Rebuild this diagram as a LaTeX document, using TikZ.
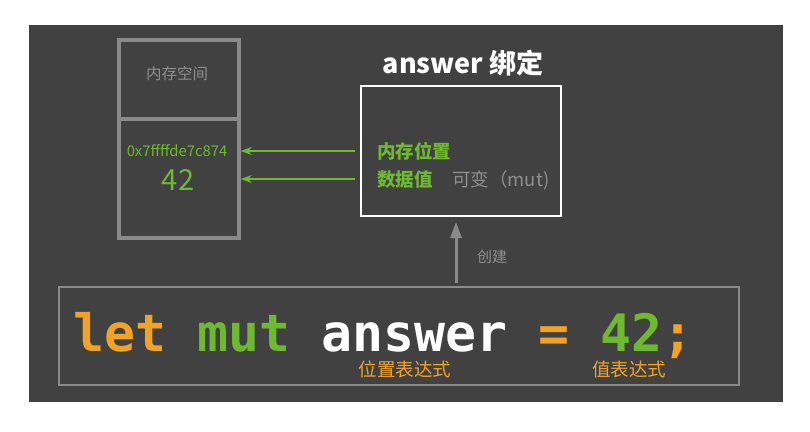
\documentclass[tikz,border=0pt]{standalone}
\usepackage{fontspec}
\newfontfamily\cjk{Noto Sans CJK SC}
\newfontfamily\codefont{DejaVu Sans Mono}
\usetikzlibrary{arrows.meta}
\definecolor{panelbg}{HTML}{414141}
\definecolor{boxgray}{HTML}{8A8A8A}
\definecolor{txtgray}{HTML}{8E8E8E}
\definecolor{cgreen}{HTML}{6DB92F}
\definecolor{corange}{HTML}{F2A325}
\tikzset{
  membox/.style={draw=boxgray, line width=3.5pt, minimum width=120pt, inner sep=0pt},
  lbl/.style={inner sep=0pt, font=\cjk},
  garrow/.style={draw=cgreen, line width=1.8pt, -{Stealth[length=11pt,width=8pt]}},
  uparrow/.style={draw=boxgray, line width=3pt, -{Triangle[length=16pt,width=11pt]}},
}
\begin{document}
\begin{tikzpicture}[x=1pt,y=-1pt]
\useasboundingbox (0,0) rectangle (810,431);
\fill[white] (0,0) rectangle (810,431);
\fill[panelbg] (29,25) rectangle (783,402);

% memory box
\node[membox, minimum height=79pt] (memtop) at (179,79.5) {};
\node[membox, minimum height=119pt] (membot) at (179,178.5) {};
\node[lbl, text=txtgray, font=\cjk\fontsize{15.5}{18}\selectfont] (memlbl) at (177,74) {内存空间};
\node[lbl, text=cgreen, font=\cjk\fontsize{14.8}{17}\selectfont] (addr) at (177,151) {0x7ffffde7c874};
\node[lbl, text=cgreen, font=\cjk\fontsize{29}{32}\selectfont] (val) at (178,180) {42};

% binding box
\node[draw=white, line width=2pt, minimum width=200pt, minimum height=130pt, inner sep=0pt] (bind) at (461,151) {};
\node[lbl, text=white, font=\cjk\bfseries\fontsize{27}{32}\selectfont] (title) at (463,63) {answer 绑定};
\node[lbl, text=cgreen, font=\cjk\bfseries\fontsize{18.5}{22}\selectfont, anchor=west] (loc) at (377,151) {内存位置};
\node[lbl, text=cgreen, font=\cjk\bfseries\fontsize{18.5}{22}\selectfont, anchor=west] (dat) at (377,180) {数据值};
\node[lbl, text=txtgray, font=\cjk\fontsize{18.5}{22}\selectfont, anchor=west] (mutl) at (452,180) {可变（mut)};

% green arrows
\coordinate (a1s) at (355,151);
\coordinate (a2s) at (355,179);
\draw[garrow] (a1s) -- (a1s -| membot.east);
\draw[garrow] (a2s) -- (a2s -| membot.east);

% code box
\node[draw=boxgray, line width=2pt, minimum width=680pt, minimum height=98pt, inner sep=0pt] (code) at (399,336) {};
\node[inner sep=0pt, text depth=0pt, anchor=base west, font=\codefont\bfseries\fontsize{51.5}{56}\selectfont] (src) at (73,351)
  {\textcolor{corange}{let} \textcolor{cgreen}{mut} \textcolor{white}{answer} \textcolor{corange}{=} \textcolor{cgreen}{42}\textcolor{corange}{;}};
\node[lbl, text=corange, font=\cjk\fontsize{18.5}{22}\selectfont] (placeexpr) at (405,369) {位置表达式};
\node[lbl, text=corange, font=\cjk\fontsize{18.5}{22}\selectfont] (valexpr) at (629,369) {值表达式};

% create arrow
\coordinate (cx) at (456,0);
\draw[uparrow] ([yshift=3pt]code.north -| cx) -- ([yshift=-5pt]bind.south -| cx);
\node[lbl, text=txtgray, font=\cjk\fontsize{15}{18}\selectfont] (create) at (492,257) {创建};
\end{tikzpicture}
\end{document}
